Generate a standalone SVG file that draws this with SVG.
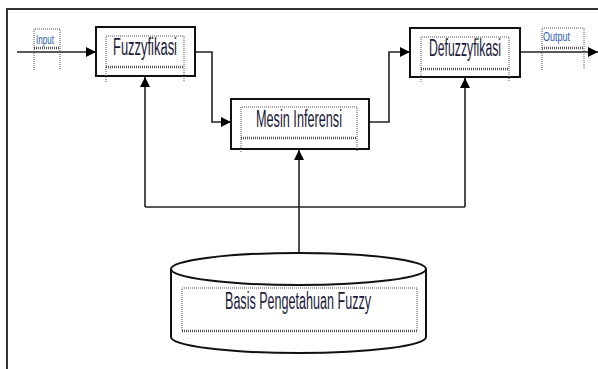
<svg xmlns="http://www.w3.org/2000/svg" width="598" height="369" viewBox="0 0 598 369">
  <defs>
    <marker id="arrow" viewBox="0 0 10 10" refX="10" refY="5" markerWidth="10" markerHeight="10" markerUnits="userSpaceOnUse" orient="auto">
      <path d="M0,0 L10,5 L0,10 Z" fill="#000"/>
    </marker>
  </defs>
  <style>
    .frame { fill: none; stroke: #333; stroke-width: 2; }
    .box { fill: #fff; stroke: #111; stroke-width: 2; }
    .dot { fill: none; stroke: #555; stroke-width: 1; stroke-dasharray: 1 1; }
    .dotb { fill: none; stroke: #555; stroke-width: 2.5; stroke-dasharray: 1 1; }
    .wire { fill: none; stroke: #222; stroke-width: 1.6; }
    .lbl { font-family: "Liberation Sans Narrow", "Liberation Sans", Arial, sans-serif; font-size: 23px; fill: #1a1a3a; }
    .tag { font-family: "Liberation Sans Narrow", "Liberation Sans", Arial, sans-serif; font-size: 12px; fill: #2a5bb0; }
  </style>
  <rect width="598" height="369" fill="#fff"/>

  <!-- outer frame -->
  <path class="frame" d="M7,369 V9 H598"/>

  <!-- connectors -->
  <g id="connectors">
    <path class="wire" d="M17,52 H96" marker-end="url(#arrow)"/>
    <path class="wire" d="M195,52 H212 V122 H231" marker-end="url(#arrow)"/>
    <path class="wire" d="M369,122 H389 V52 H410" marker-end="url(#arrow)"/>
    <path class="wire" d="M520,52 H598" marker-end="url(#arrow)"/>
    <path class="wire" d="M145,207 H465"/>
    <path class="wire" d="M145,207 V77" marker-end="url(#arrow)"/>
    <path class="wire" d="M465,207 V78" marker-end="url(#arrow)"/>
    <path class="wire" d="M299,253 V150" marker-end="url(#arrow)"/>
  </g>

  <!-- input tag -->
  <g id="input">
    <path class="dot" d="M34,70 V29 H60 V70"/>
    <path class="dotb" d="M34,48 H60"/>
    <text class="tag" x="36" y="44" textLength="18" lengthAdjust="spacingAndGlyphs">Input</text>
  </g>

  <!-- output tag -->
  <g id="output">
    <path class="dot" d="M542,70 V28 H584 V70"/>
    <path class="dotb" d="M542,48 H584"/>
    <text class="tag" x="543" y="41" textLength="27" lengthAdjust="spacingAndGlyphs">Output</text>
  </g>

  <g id="fuzzyfikasi">
    <rect class="box" x="96" y="27" width="99" height="49"/>
    <path class="dot" d="M106,82 V36 H184 V82"/>
    <path class="dotb" d="M106,67 H184"/>
    <text class="lbl" x="113" y="55" textLength="64" lengthAdjust="spacingAndGlyphs">Fuzzyfikasi</text>
  </g>

  <g id="mesin-inferensi">
    <rect class="box" x="231" y="99" width="138" height="50"/>
    <path class="dot" d="M241,152 V107 H357 V152"/>
    <path class="dotb" d="M241,138 H357"/>
    <text class="lbl" x="256" y="127" textLength="86" lengthAdjust="spacingAndGlyphs">Mesin Inferensi</text>
  </g>

  <g id="defuzzyfikasi">
    <rect class="box" x="410" y="28" width="110" height="49"/>
    <path class="dot" d="M421,82 V37 H509 V82"/>
    <path class="dotb" d="M421,69 H509"/>
    <text class="lbl" x="429" y="56" textLength="72" lengthAdjust="spacingAndGlyphs">Defuzzyfikasi</text>
  </g>

  <g id="basis-pengetahuan">
    <path class="box" d="M171,269 V337 A127.5,16 0 0 0 426,337 V269"/>
    <ellipse class="box" cx="298.5" cy="269" rx="127.5" ry="16"/>
    <rect class="dot" x="182" y="288" width="235" height="43"/>
    <path class="dotb" d="M182,331 H417"/>
    <text class="lbl" x="298" y="309" text-anchor="middle" textLength="146" lengthAdjust="spacingAndGlyphs">Basis Pengetahuan Fuzzy</text>
  </g>
</svg>
